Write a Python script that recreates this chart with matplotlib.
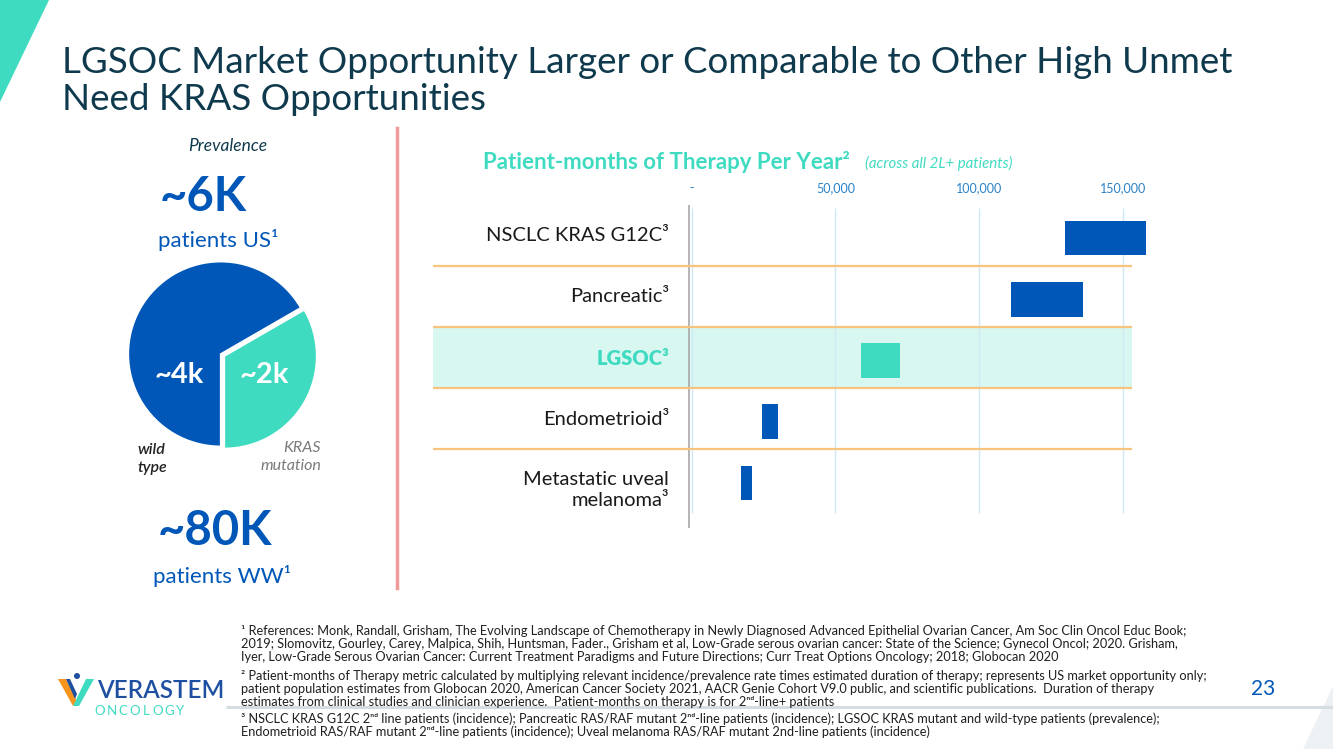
import numpy as np
import matplotlib
matplotlib.use('Agg')
import matplotlib.pyplot as plt
from matplotlib.patches import Polygon, Circle

plt.rcParams['font.family'] = ['Lato', 'DejaVu Sans']

W, H = 1333, 749

# data
categories = ['NSCLC KRAS G12C³', 'Pancreatic³', 'LGSOC³', 'Endometrioid³', 'Metastatic uveal\nmelanoma³']
range_low = [130000, 111000, 59000, 24500, 17200]
range_high = [158000, 136000, 72500, 30000, 21000]
highlight = 'LGSOC³'
tick_values = [0, 50000, 100000, 150000]
tick_labels = ['-', '50,000', '100,000', '150,000']
pie_labels = ['~4k', '~2k']
pie_values = [4, 2]

BLUE = '#0057b8'
TEAL = '#3fdbc1'
DARK = '#0f3a4d'
TICKBLUE = '#2a82c6'


def fx(px):
    return px / W


def fy(py):
    return 1 - py / H


fig = plt.figure(figsize=(W / 100, H / 100), dpi=100)

# decorations
deco = fig.add_axes([0, 0, 1, 1])
deco.set_xlim(0, W)
deco.set_ylim(H, 0)
deco.axis('off')
deco.add_patch(Polygon([(0, 0), (49, 0), (0, 102)], closed=True, color=TEAL, lw=0))
deco.add_patch(Polygon([(1303, 749), (1333, 749), (1333, 686)], closed=True, color='#eef1f3', lw=0))
deco.plot([226, 1333], [707, 707], color='#d5dde1', lw=2.2, solid_capstyle='butt')
deco.plot([397, 397], [128, 588], color='#f29a9a', lw=2.5)
# logo icon
deco.add_patch(Polygon([(58, 679), (66, 679), (79, 706), (73, 706)], closed=True, color='#f7941d', lw=0))
deco.add_patch(Polygon([(86, 679), (94, 679), (79, 706), (73, 706)], closed=True, color=TEAL, lw=0))
deco.add_patch(Polygon([(66, 679), (70, 679), (77, 694), (75, 699)], closed=True, color='#1e4fa0', lw=0))
deco.add_patch(Circle((77, 676), 3, color='#1e4fa0', lw=0))

# title
fig.text(fx(62), fy(81), 'LGSOC Market Opportunity Larger or Comparable to Other High Unmet\nNeed KRAS Opportunities',
         fontsize=26.5, color=DARK, va='center', ha='left', linespacing=1.12)

# left panel
fig.text(fx(228), fy(146), 'Prevalence', fontsize=12.5, style='italic', color=DARK, ha='center', va='center')
fig.text(fx(203), fy(197), '~6K', fontsize=34, fontweight='bold', color=BLUE, ha='center', va='center')
fig.text(fx(218), fy(240), 'patients US¹', fontsize=16, color=BLUE, ha='center', va='center')
fig.text(fx(215), fy(531), '~80K', fontsize=34, fontweight='bold', color=BLUE, ha='center', va='center')
fig.text(fx(222), fy(576), 'patients WW¹', fontsize=16, color=BLUE, ha='center', va='center')

pax = fig.add_axes([fx(120.7), fy(454), 200 / W, 200 / H])
wedges, _ = pax.pie(pie_values, colors=[BLUE, TEAL], startangle=30, counterclock=True, radius=1,
                    explode=[0, 0.045], wedgeprops=dict(edgecolor='white', linewidth=1.2))
pax.set_xlim(-1.0825, 1.0825)
pax.set_ylim(-1.0825, 1.0825)
pax.set_aspect('auto')
fig.text(fx(179), fy(375), pie_labels[0], fontsize=21, fontweight='bold', color='white', ha='center', va='center')
fig.text(fx(264), fy(375), pie_labels[1], fontsize=21, fontweight='bold', color='white', ha='center', va='center')
fig.text(fx(137), fy(459), 'wild\ntype', fontsize=11.5, style='italic', fontweight='semibold', color='#222222',
         ha='left', va='center', linespacing=1.3)
fig.text(fx(321), fy(457), 'KRAS\nmutation', fontsize=11.5, style='italic', color='#7a7a7a', ha='right', va='center',
         linespacing=1.3, multialignment='right')

# chart header
fig.text(fx(483), fy(162), 'Patient-months of Therapy Per Year²', fontsize=16, fontweight='bold', color=TEAL,
         ha='left', va='center')
fig.text(fx(865), fy(163), '(across all 2L+ patients)', fontsize=10.8, style='italic', color=TEAL,
         ha='left', va='center')

# range chart
ax_l, ax_r, ax_t, ax_b = 433, 1150, 205, 528
x0_px, px_per_unit = 691.7, 143.7 / 50000
row0_px, row_px = 238, 61.25
ax = fig.add_axes([fx(ax_l), fy(ax_b), (ax_r - ax_l) / W, (ax_b - ax_t) / H])
ax.set_xlim(-(x0_px - ax_l) / px_per_unit, (ax_r - x0_px) / px_per_unit)
ax.set_ylim((ax_b - row0_px) / row_px, -(row0_px - ax_t) / row_px)
for s in ax.spines.values():
    s.set_visible(False)
ax.set_yticks([])
ax.xaxis.tick_top()
ax.set_xticks(tick_values)
ax.set_xticklabels(tick_labels)
ax.tick_params(axis='x', length=0, pad=8, labelsize=9, labelcolor=TICKBLUE)

xmin_band = ax.get_xlim()[0]
xmax_band = (1132 - x0_px) / px_per_unit
rows = np.arange(len(categories))
hi_idx = categories.index(highlight)
ax.fill_between([xmin_band, xmax_band], hi_idx - 0.55, hi_idx + 0.45, color='#d8f7f0', lw=0, zorder=0)
ax.vlines(tick_values, -0.49, len(categories) - 0.51, color='#cfe8f8', lw=1, zorder=1)
ax.vlines(-900, ax.get_ylim()[1], ax.get_ylim()[0], color='#a8a8a8', lw=1.2, zorder=2)
ax.hlines(rows[:-1] + 0.45, xmin_band, xmax_band, color='#f6c47c', lw=1.6, zorder=2)

lows = np.array(range_low)
highs = np.array(range_high)
colors = [TEAL if c == highlight else BLUE for c in categories]
ax.barh(rows, highs - lows, left=lows, height=0.566, color=colors, zorder=3, clip_on=False)

label_x = (669 - x0_px) / px_per_unit
for i, c in enumerate(categories):
    two = '\n' in c
    ax.text(label_x, i + (0.11 if two else -0.04), c, ha='right', va='center', fontsize=14.5,
            color=TEAL if c == highlight else '#1a1a1a', fontweight='heavy' if c == highlight else 'normal',
            multialignment='right', linespacing=1.3)

# footnotes
notes = [
    (631, '¹ References: Monk, Randall, Grisham, The Evolving Landscape of Chemotherapy in Newly Diagnosed Advanced Epithelial Ovarian Cancer, Am Soc Clin Oncol Educ Book;'),
    (644, '2019; Slomovitz, Gourley, Carey, Malpica, Shih, Huntsman, Fader., Grisham et al, Low-Grade serous ovarian cancer: State of the Science; Gynecol Oncol; 2020. Grisham,'),
    (657, 'Iyer, Low-Grade Serous Ovarian Cancer: Current Treatment Paradigms and Future Directions; Curr Treat Options Oncology; 2018; Globocan 2020'),
    (676, '² Patient-months of Therapy metric calculated by multiplying relevant incidence/prevalence rate times estimated duration of therapy; represents US market opportunity only;'),
    (689, 'patient population estimates from Globocan 2020, American Cancer Society 2021, AACR Genie Cohort V9.0 public, and scientific publications.  Duration of therapy'),
    (702, 'estimates from clinical studies and clinician experience.  Patient-months on therapy is for 2ⁿᵈ-line+ patients'),
    (719, '³ NSCLC KRAS G12C 2ⁿᵈ line patients (incidence); Pancreatic RAS/RAF mutant 2ⁿᵈ-line patients (incidence); LGSOC KRAS mutant and wild-type patients (prevalence);'),
    (732, 'Endometrioid RAS/RAF mutant 2ⁿᵈ-line patients (incidence); Uveal melanoma RAS/RAF mutant 2nd-line patients (incidence)'),
]
for y, t in notes:
    fig.text(fx(241), fy(y), t, fontsize=9.2, color='#1f1f1f', ha='left', va='center')

# logo text and page number
fig.text(fx(97), fy(691), 'VERASTEM', fontsize=17.5, fontweight='semibold', color='#1e4fa0', ha='left', va='center')
for k, ch in enumerate('ONCOLOGY'):
    fig.text(fx(100 + k * 11.5), fy(711), ch, fontsize=9.5, color=TEAL, ha='center', va='center')
fig.text(fx(1263), fy(689), '23', fontsize=15, color=BLUE, ha='center', va='center')

fig.savefig('out.png', dpi=100)
